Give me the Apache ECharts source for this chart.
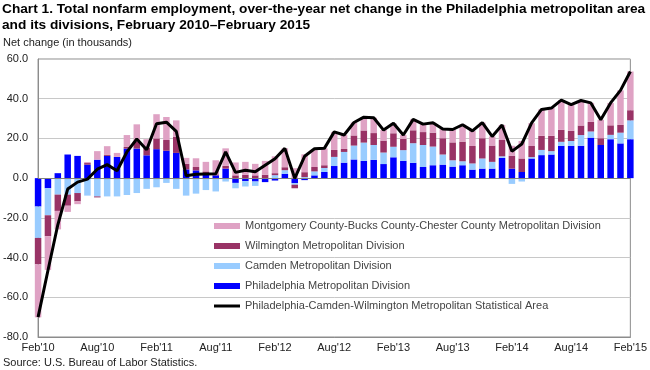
<!DOCTYPE html>
<html>
<head>
<meta charset="utf-8">
<script src="https://cdn.jsdelivr.net/npm/echarts@6/dist/echarts.min.js"></script>
<style>
html,body{margin:0;padding:0;background:#fff;}
#chart{width:650px;height:370px;}
</style>
</head>
<body>
<div id="chart"></div>
<script>
var categories = ["Feb'10","Mar'10","Apr'10","May'10","Jun'10","Jul'10","Aug'10","Sep'10","Oct'10","Nov'10","Dec'10","Jan'11",
"Feb'11","Mar'11","Apr'11","May'11","Jun'11","Jul'11","Aug'11","Sep'11","Oct'11","Nov'11","Dec'11","Jan'12",
"Feb'12","Mar'12","Apr'12","May'12","Jun'12","Jul'12","Aug'12","Sep'12","Oct'12","Nov'12","Dec'12","Jan'13",
"Feb'13","Mar'13","Apr'13","May'13","Jun'13","Jul'13","Aug'13","Sep'13","Oct'13","Nov'13","Dec'13","Jan'14",
"Feb'14","Mar'14","Apr'14","May'14","Jun'14","Jul'14","Aug'14","Sep'14","Oct'14","Nov'14","Dec'14","Jan'15","Feb'15"];

var philadelphia = [-14.3,-5.1,2.5,11.9,11.2,6.8,9.3,11.2,10.7,14.9,14.9,11.5,
14.6,13.8,12.7,4.4,3.9,2.2,1.4,4.8,-2.4,-1.5,-1.7,-2.0,
-1.2,2.2,-2.5,-1.0,1.4,3.1,6.1,7.8,9.4,8.7,9.2,7.1,
10.5,8.7,7.7,5.6,6.5,6.8,5.8,6.5,4.3,4.8,4.8,10.2,
4.8,3.1,9.9,11.6,11.9,16.3,16.3,16.3,20.4,16.7,19.6,17.5,19.6];

var camden = [-15.8,-13.6,-8.3,-8.3,-7.5,-8.8,-9.2,-9.2,-9.2,-8.5,-7.5,-5.4,
-4.6,-2.4,-5.4,-8.8,-7.8,-6.0,-6.7,-1.7,-2.7,-2.7,-2.2,0,
1.5,1.8,-0.8,0.5,2.0,2.0,4.6,5.4,7.0,9.2,7.5,5.8,
5.3,5.4,9.9,11.1,9.4,5.1,3.2,2.0,3.1,5.1,3.4,0.8,
-2.9,-1.7,0.7,2.6,1.7,2.0,2.4,5.4,3.1,0,2.2,5.4,9.5];

var wilmington = [-13.3,-10.5,-8.2,-5.6,-4.2,0.8,-0.5,0.5,0,0.8,3.4,3.7,
5.4,5.4,8.2,2.9,1.7,1.2,0.5,1.4,1.4,1.7,1.4,1.7,
1.0,1.5,-1.8,2.5,2.2,1.4,3.5,1.5,5.1,6.1,6.0,6.0,
6.8,5.6,6.5,6.5,7.0,8.2,9.0,9.9,8.8,10.2,8.2,8.2,
6.5,6.8,5.6,7.1,7.7,6.0,5.1,4.8,4.8,3.4,4.8,3.9,5.1];

var montgomery = [-26.7,-17.0,-9.3,-3.1,-1.4,0.5,4.3,4.4,2.0,6.0,8.8,4.4,
12.2,11.6,8.2,2.9,4.4,4.8,7.1,8.8,6.5,6.5,5.8,7.0,
8.5,9.5,5.0,9.0,9.0,8.5,9.0,7.0,6.5,6.7,7.7,5.3,
5.0,2.0,5.5,4.0,5.0,4.6,6.5,8.5,7.6,7.9,4.6,7.6,
5.0,8.8,11.5,13.3,14.0,15.0,13.2,12.6,9.6,9.3,11.3,17.4,19.5];

var msa = [-70.0,-46.5,-23.5,-5.5,-2.0,-0.5,4.5,6.8,3.7,13.2,19.7,14.3,
27.4,28.2,23.6,1.2,2.0,2.1,2.2,13.2,2.9,4.0,3.2,6.5,
9.8,15.0,-0.1,11.0,14.8,15.0,23.3,21.7,28.0,30.7,30.4,24.2,
27.6,21.7,29.6,27.2,27.9,24.7,24.5,26.9,23.8,28.0,21.0,26.8,
13.5,17.2,27.8,34.6,35.3,39.3,37.0,39.1,37.9,29.4,37.9,44.2,53.7];

var yTicks = {min: -80, max: 60, interval: 20};

var names = {
  mont: "Montgomery County-Bucks County-Chester County Metropolitan Division",
  wilm: "Wilmington Metropolitan Division",
  cam: "Camden Metropolitan Division",
  phil: "Philadelphia Metropolitan Division",
  msa: "Philadelphia-Camden-Wilmington Metropolitan Statistical Area"
};

var FONT = "'Liberation Sans', Arial, sans-serif";
var chart = echarts.init(document.getElementById('chart'), null, {renderer: 'canvas'});

function barSeries(name, data, color) {
  return {
    name: name, type: 'bar', stack: 'total', data: data,
    barWidth: 6.5, clip: true,
    itemStyle: {color: color},
    emphasis: {disabled: true},
    animation: false
  };
}

var legendText = {fontFamily: FONT, fontSize: 11, color: '#444', lineHeight: 14};

var option = {
  animation: false,
  textStyle: {fontFamily: FONT},
  title: [
    {
      text: "Chart 1. Total nonfarm employment, over-the-year net change in the Philadelphia metropolitan area\nand its divisions, February 2010\u2013February 2015",
      left: 2, top: 1, padding: 0,
      textStyle: {fontFamily: FONT, fontSize: 13.7, fontWeight: 'bold', color: '#000', lineHeight: 16}
    },
    {
      text: "Net change (in thousands)",
      left: 3, top: 37, padding: 0,
      textStyle: {fontFamily: FONT, fontSize: 11, fontWeight: 'normal', color: '#222'}
    },
    {
      text: "Source: U.S. Bureau of Labor Statistics.",
      left: 3, top: 357, padding: 0,
      textStyle: {fontFamily: FONT, fontSize: 11, fontWeight: 'normal', color: '#222'}
    }
  ],
  grid: {left: 37, right: 16, top: 59, bottom: 33, show: true, borderColor: '#8c8c8c', borderWidth: 1, containLabel: false},
  legend: [
    {
      orient: 'vertical', left: 214, top: 219, padding: 0,
      itemWidth: 26, itemHeight: 6, itemGap: 6,
      textStyle: legendText,
      icon: 'rect',
      data: [names.mont, names.wilm, names.cam, names.phil],
      selectedMode: false
    },
    {
      orient: 'vertical', left: 214, top: 299, padding: 0,
      itemWidth: 26, itemHeight: 3, itemGap: 6,
      textStyle: legendText,
      icon: 'rect',
      data: [names.msa],
      selectedMode: false
    }
  ],
  xAxis: {
    type: 'category', data: categories, boundaryGap: false,
    axisLine: {show: true, lineStyle: {color: '#8c8c8c'}, onZero: false},
    axisTick: {show: false},
    splitLine: {show: false},
    axisLabel: {interval: 5, fontFamily: FONT, fontSize: 11, color: '#222', margin: 5}
  },
  yAxis: {
    type: 'value', min: yTicks.min, max: yTicks.max, interval: yTicks.interval,
    axisLine: {show: true, lineStyle: {color: '#8c8c8c'}},
    axisTick: {show: false},
    splitLine: {show: true, lineStyle: {color: '#c8c8c8', width: 1}},
    axisLabel: {fontFamily: FONT, fontSize: 11, color: '#222', margin: 10,
      formatter: function (v) { return v.toFixed(1); }}
  },
  series: [
    barSeries(names.phil, philadelphia, '#0000FF'),
    barSeries(names.cam, camden, '#99CCFF'),
    barSeries(names.wilm, wilmington, '#993366'),
    barSeries(names.mont, montgomery, '#DFA2C4'),
    {
      name: names.msa, type: 'line', data: msa, symbol: 'none', showSymbol: false, z: 5,
      lineStyle: {color: '#000', width: 3},
      itemStyle: {color: '#000'},
      animation: false,
      markLine: {
        silent: true, symbol: 'none', label: {show: false},
        lineStyle: {color: '#808080', width: 1, type: 'solid'},
        data: [{yAxis: 0}],
        animation: false
      }
    }
  ]
};
chart.setOption(option);
</script>
</body>
</html>
